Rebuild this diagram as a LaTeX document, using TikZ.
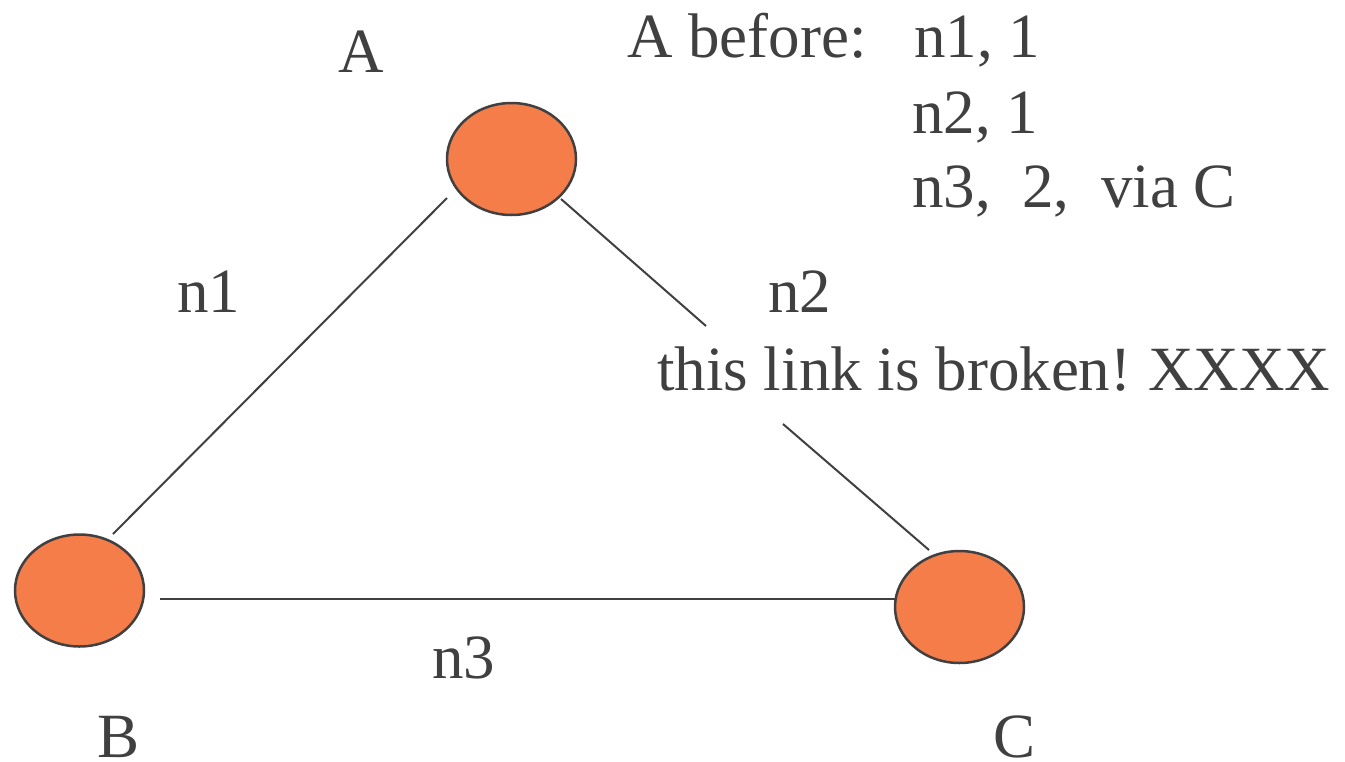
\documentclass[tikz,border=0pt]{standalone}
\usepackage{fontspec}
\setmainfont{Liberation Serif}
\newfontfamily\tnrfont{Liberation Serif}
\usetikzlibrary{shapes.geometric}
\definecolor{ink}{HTML}{404040}
\definecolor{nodefill}{HTML}{F47D4A}
\tikzset{
  router/.style={ellipse, draw=ink, line width=2.5pt, fill=nodefill, minimum width=129pt, minimum height=112pt, inner sep=0pt},
  link/.style={draw=ink, line width=2pt},
  lbl/.style={text=ink, anchor=base west, inner sep=0pt, font=\tnrfont\fontsize{63}{75}\selectfont}
}
\begin{document}
\begin{tikzpicture}[x=1pt, y=-1pt]
\useasboundingbox (0,0) rectangle (1345,761);
% routers
\node[router] (A) at (511.5,159) {};
\node[router] (B) at (79.5,590.5) {};
\node[router] (C) at (959.5,607) {};
% connector end points
\coordinate (ab1) at (447,198);
\coordinate (ab2) at (113,534);
\coordinate (ac1) at (561,199);
\coordinate (ac2) at (706,326);
\coordinate (ac3) at (783,424);
\coordinate (ac4) at (929,550);
\coordinate (bc1) at (160,599);
\coordinate (bc2) at (895,599);
\draw[link] (ab1) -- (ab2);
\draw[link] (ac1) -- (ac2);
\draw[link] (ac3) -- (ac4);
\draw[link] (bc1) -- (bc2);
% labels
\node[lbl] (lA) at (338,72) {A};
\node[lbl] (lB) at (97,757) {B};
\node[lbl] (lC) at (993,757) {C};
\node[lbl] (ln1) at (177,312) {n1};
\node[lbl] (ln2) at (768,312) {n2};
\node[lbl] (ln3) at (432,678) {n3};
\node[lbl] (broken) at (657,390) {this link is broken!\hspace{-4pt} XXXX};
\node[lbl] (tblh) at (627,57) {A before:};
\node[lbl] (t1) at (914,57) {n1, 1};
\node[lbl] (t2) at (912,133) {n2, 1};
\node[lbl] (t3) at (912,207) {n3,\ \ 2,\ \ via C};
\end{tikzpicture}
\end{document}
